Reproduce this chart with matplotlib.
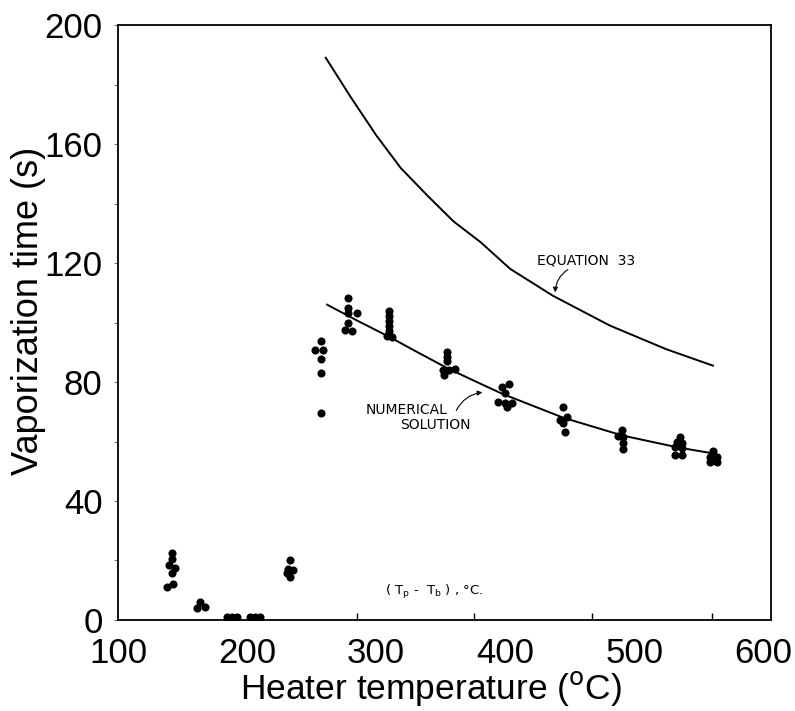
import matplotlib
matplotlib.use('Agg')
import matplotlib.pyplot as plt
import numpy as np

# measured droplet vaporization times (s) against heater temperature (C)
clusters_x = [
    [141.6, 141.6, 139.8, 144.2, 141.6, 137.7, 142.9],
    [163.6, 161.0, 167.4],
    [184.3, 188.0, 192.0],
    [202.3, 206.2, 210.0],
    [233.3, 232.0, 235.9, 230.7, 233.3],
    [257.1, 252.7, 259.1, 257.1, 257.1, 257.1],
    [278.5, 278.5, 278.5, 285.0, 278.5, 275.9, 281.1],
    [310.0, 310.0, 310.0, 310.0, 310.0, 308.3, 312.1],
    [354.7, 355.2, 355.2, 351.6, 356.8, 361.2, 352.7],
    [397.4, 403.3, 400.0, 394.8, 400.0, 405.2, 401.3],
    [445.2, 447.8, 442.6, 445.2, 446.5],
    [490.4, 487.8, 491.2, 491.2, 491.2],
    [535.7, 533.2, 536.9, 531.8, 536.9, 531.8, 536.9],
    [561.4, 558.9, 564.0, 558.9, 564.0],
]
clusters_y = [
    [22.4, 20.4, 18.5, 17.4, 15.7, 11.2, 12.1],
    [6.2, 3.9, 4.3],
    [1.0, 1.0, 1.0],
    [1.0, 1.0, 1.0],
    [20.2, 17.0, 16.8, 15.9, 14.4],
    [93.8, 90.8, 90.8, 87.6, 83.1, 69.5],
    [108.1, 104.8, 103.1, 103.3, 99.9, 97.5, 97.2],
    [104.0, 102.2, 100.5, 98.8, 97.2, 95.5, 95.2],
    [90.2, 88.5, 86.9, 84.0, 84.0, 84.3, 82.4],
    [78.4, 79.3, 76.2, 73.4, 72.8, 73.0, 71.7],
    [71.7, 68.1, 67.2, 66.1, 63.3],
    [63.9, 61.8, 61.6, 59.4, 57.4],
    [61.6, 60.0, 59.6, 58.1, 57.7, 55.5, 55.5],
    [56.9, 54.9, 54.9, 53.2, 53.2],
]

# equation 33 curve
eq_x = [261, 280, 300, 319, 339, 360, 381, 404, 437, 481, 525, 561]
eq_y = [189, 176, 163, 152, 143, 134, 127, 118, 109, 99, 91, 85.5]

# numerical solution curve
num_x = [262, 286, 311, 333, 355, 377, 398, 445, 491, 534, 561]
num_y = [106, 100.5, 95, 89.8, 84.7, 80.2, 76, 68, 62, 58, 56]

x_ticks = [100, 200, 300, 400, 500, 600]
y_ticks = [0, 40, 80, 120, 160, 200]
scan_ticks = [285, 376, 467, 560]


def squiggle_arrow(ax, start, end, rad):
    '''Thin arrow like the hand drawn ones on the scan'''
    ax.annotate('', xy=end, xytext=start,
                arrowprops=dict(arrowstyle='-|>', lw=0.8, color='black',
                                mutation_scale=7,
                                connectionstyle=f'arc3,rad={rad}'))


def make_graph(graph_name):
    '''Draws the vaporization time chart'''
    plt.rcParams['font.family'] = ['Liberation Sans', 'DejaVu Sans']
    fig = plt.figure(figsize=(7.95, 7.11), dpi=100)
    ax = fig.add_axes([0.1484, 0.128, 0.8214, 0.8368])

    pts_x = np.concatenate([np.array(c) for c in clusters_x])
    pts_y = np.concatenate([np.array(c) for c in clusters_y])
    ax.scatter(pts_x, pts_y, s=34, color='black', zorder=3, linewidths=0)

    ax.plot(eq_x, eq_y, color='black', lw=1.4)
    ax.plot(num_x, num_y, color='black', lw=1.4)

    ax.set_xlim(100, 606)
    ax.set_ylim(0, 200)

    ax.set_xticks(x_ticks)
    ax.set_yticks(y_ticks)
    ax.set_xticks(scan_ticks, minor=True)
    ax.set_yticks(np.arange(20, 200, 40), minor=True)
    ax.tick_params(axis='x', which='major', length=0, pad=12, labelsize=25)
    ax.tick_params(axis='x', which='minor', direction='in', length=5, width=1)
    ax.tick_params(axis='y', which='both', direction='out', length=3,
                   width=0.8, color='0.45', labelsize=25, pad=8)
    for sp in ax.spines.values():
        sp.set_linewidth(1.3)

    ax.set_xlabel('Heater temperature ($^{\\rm o}$C)', fontsize=25.5)
    ax.xaxis.set_label_coords(0.48, -0.082)
    ax.set_ylabel('Vaporization time (s)', fontsize=26)
    ax.yaxis.set_label_coords(-0.11, 0.52)

    # labels copied from the scanned figure
    lab = dict(family='DejaVu Sans', fontsize=10, color='black')
    ax.text(463, 121, 'EQUATION  33', ha='center', va='center', **lab)
    squiggle_arrow(ax, (450.4, 118.3), (438.8, 109.2), 0.3)
    ax.text(355, 70.6, 'NUMERICAL', ha='right', va='center', **lab)
    ax.text(318.6, 65.5, 'SOLUTION', ha='left', va='center', **lab)
    squiggle_arrow(ax, (361.2, 69.6), (384.5, 76.6), -0.3)
    ax.text(307, 9.4, '( T$_{\\rm p}$ -  T$_{\\rm b}$ ) , °C.', ha='left',
            va='center', family='DejaVu Sans', fontsize=9.5)

    fig.savefig(graph_name, dpi=100)
    plt.close(fig)


def main():
    make_graph('out.png')


if __name__ == '__main__':
    main()
